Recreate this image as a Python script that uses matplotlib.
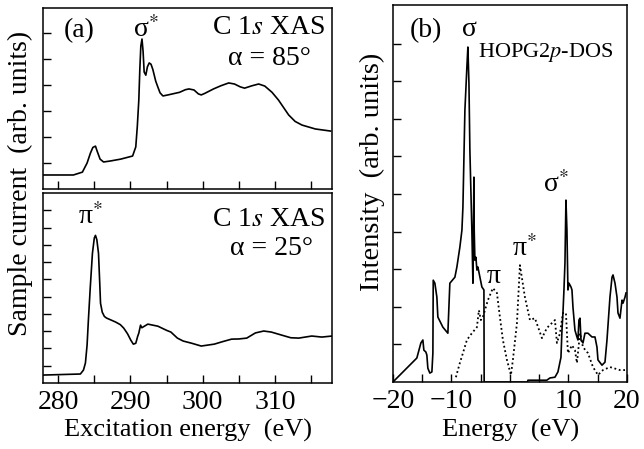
import numpy as np
import matplotlib
matplotlib.use("Agg")
import matplotlib.pyplot as plt
from matplotlib.ticker import MultipleLocator

plt.rcParams["font.family"] = ["Liberation Serif", "DejaVu Serif"]
plt.rcParams["mathtext.fontset"] = "stix"

# (a) upper: C 1s XAS, alpha = 85 deg
e85 = [277.9, 282.1, 283.35, 284.0, 284.46, 284.8, 285.16, 285.4, 285.8, 286.28,
       287.25, 288.65, 290.3, 290.74, 290.95, 291.16, 291.3, 291.44, 291.6, 291.75,
       291.9, 292.13, 292.35, 292.6, 292.85, 293.1, 293.5, 293.8, 294.1, 294.5,
       295.2, 296.8, 297.6, 298.1, 298.8, 299.4, 299.8, 300.3, 301.5, 302.5,
       303.6, 304.4, 305.2, 305.8, 306.8, 307.75, 308.6, 309.6, 310.5, 311.9,
       312.8, 313.75, 315.6, 317.7]
i85 = [0.54, 0.54, 0.65, 1.0, 1.38, 1.6, 1.65, 1.45, 1.15, 1.04,
       1.08, 1.15, 1.27, 1.62, 2.4, 3.42, 4.6, 5.5, 5.77, 5.3,
       4.5, 4.38, 4.7, 4.85, 4.8, 4.6, 4.15, 3.92, 3.7, 3.58,
       3.62, 3.72, 3.82, 3.85, 3.81, 3.66, 3.62, 3.68, 3.85, 3.97,
       4.08, 4.04, 3.93, 3.88, 3.97, 4.04, 3.96, 3.72, 3.42, 2.85,
       2.6, 2.46, 2.31, 2.23]

# (a) lower: C 1s XAS, alpha = 25 deg
e25 = [277.9, 283.07, 283.5, 283.77, 284.0, 284.18, 284.45, 284.74, 285.0, 285.16,
       285.35, 285.58, 285.75, 285.86, 286.1, 286.4, 286.7, 287.95, 288.6, 289.07,
       289.6, 290.04, 290.4, 290.74, 291.0, 291.16, 291.4, 291.58, 292.41, 293.8,
       295.0, 295.6, 296.5, 297.3, 298.5, 299.8, 301.6, 302.8, 304.0, 305.0,
       306.1, 307.3, 308.45, 309.5, 310.96, 312.2, 313.3, 315.1, 316.5, 317.9]
i25 = [0.46, 0.52, 0.75, 1.16, 2.2, 3.64, 5.6, 7.51, 8.4, 8.55,
       8.3, 7.51, 5.8, 4.62, 4.1, 3.85, 3.76, 3.53, 3.38, 3.18,
       2.85, 2.49, 2.25, 2.3, 2.7, 2.89, 3.35, 3.2, 3.41, 3.29,
       3.05, 2.95, 2.6, 2.43, 2.3, 2.14, 2.25, 2.4, 2.54, 2.55,
       2.60, 2.9, 3.01, 2.95, 2.77, 2.62, 2.60, 2.72, 2.66, 2.72]

# (b) HOPG 2p DOS, sigma (solid)
e_sig = [-20, -17.95, -15.9, -15.21, -14.87, -14.7, -14.36, -14.19, -14.02, -13.68,
         -13.33, -13.16, -13.1, -12.82, -12.48, -12.31, -11.45, -10.6, -10.26, -9.4,
         -9.06, -8.55, -8.2, -8.03, -7.69, -7.35, -7.18, -7.0, -6.84, -6.5,
         -6.32, -6.15, -6.1, -5.98, -5.81, -5.64, -5.47, -4.79, -4.44, -4.4,
         3.0, 3.08, 6.3, 6.84, 7.69, 8.2, 8.72, 8.89, 9.06, 9.23,
         9.4, 9.57, 9.74, 9.91, 10.09, 10.43, 10.6, 10.77, 11.11, 11.45,
         11.62, 11.79, 11.97, 12.14, 12.48, 12.82, 13.33, 14.02, 14.53, 14.87,
         15.04, 15.73, 16.24, 16.58, 17.09, 17.44, 17.61, 17.95, 18.29, 18.46,
         18.8, 19.15, 19.32, 19.66, 19.83]
d_sig = [0.0, 0.32, 0.64, 1.04, 1.12, 0.85, 0.80, 0.72, 0.37, 0.24,
         0.27, 0.77, 2.71, 2.63, 2.26, 1.73, 1.46, 1.30, 2.63, 2.79,
         3.06, 3.59, 4.04, 4.65, 7.23, 8.38, 8.91, 7.95, 6.17, 4.04,
         2.63, 5.45, 4.04, 3.24, 3.32, 2.98, 3.06, 2.53, 2.45, 0.0,
         0.0, 0.05, 0.05, 0.11, 0.13, 0.27, 0.66, 1.38, 1.84, 2.45,
         3.16, 4.84, 4.04, 2.45, 2.63, 2.53, 2.45, 1.99, 1.38, 1.20,
         1.12, 1.65, 1.70, 1.12, 1.04, 1.30, 1.30, 1.20, 1.20, 0.93,
         0.59, 0.45, 0.53, 1.12, 2.26, 2.79, 2.85, 2.63, 2.26, 1.84,
         1.70, 2.18, 2.10, 2.26, 2.37]

# (b) pi DOS (dotted)
e_pi = [-9.23, -8.55, -8.03, -7.35, -6.5, -5.64, -5.3, -4.96, -4.62, -3.76,
        -2.91, -2.22, -1.71, -1.2, -0.51, 0.17, 0.51, 1.2, 1.71, 2.56,
        3.42, 4.27, 5.47, 6.32, 7.69, 8.03, 8.55, 9.06, 9.57, 9.91,
        10.6, 11.11, 11.45, 11.97, 12.48, 13.33, 14.19, 15.04, 15.9, 17.09,
        18.8, 19.66]
d_pi = [0.13, 0.51, 0.77, 1.12, 1.30, 1.46, 1.91, 1.65, 1.73, 2.18,
        2.50, 2.37, 1.73, 1.12, 0.59, 0.19, 0.59, 1.57, 3.11, 2.26,
        1.65, 1.70, 1.17, 1.44, 1.65, 1.04, 1.30, 1.84, 1.84, 0.77,
        0.98, 0.85, 0.51, 1.30, 0.93, 0.77, 0.40, 0.19, 0.32, 0.40,
        0.32, 0.32]

fig = plt.figure(figsize=(6.44, 4.49), dpi=100)
ax1 = fig.add_axes([0.0668, 0.579, 0.4487, 0.403])
ax2 = fig.add_axes([0.0668, 0.147, 0.4487, 0.423])
ax3 = fig.add_axes([0.610, 0.149, 0.3636, 0.840])

lw = 1.2
ax1.plot(e85, i85, color="black", lw=lw)
ax2.plot(e25, i25, color="black", lw=lw)
ax3.plot(e_sig, d_sig, color="black", lw=lw)
ax3.plot(e_pi, d_pi, color="black", lw=1.3, ls=(0, (1, 1.5)))

for ax in (ax1, ax2, ax3):
    for s in ax.spines.values():
        s.set_linewidth(1.1)
    ax.tick_params(axis="both", which="both", direction="in", length=6, width=1.0,
                   top=False, right=False, labelsize=20, pad=5)

ax1.set_xlim(277.9, 317.9)
ax2.set_xlim(277.9, 317.9)
for ax in (ax1, ax2):
    ax.xaxis.set_major_locator(MultipleLocator(10))
    ax.xaxis.set_minor_locator(MultipleLocator(5))
ax1.set_xticklabels([])
ax1.set_ylim(0, 6.96)
ax1.set_yticks(np.arange(1, 7))
ax1.set_yticklabels([])
ax2.set_ylim(0, 11.0)
ax2.set_yticks(np.arange(1, 11))
ax2.set_yticklabels([])

ax3.set_xlim(-20, 20)
ax3.set_ylim(0, 10.03)
ax3.set_xticks([-20, -10, 0, 10, 20])
ax3.xaxis.set_minor_locator(MultipleLocator(5))
ax3.set_yticks(np.arange(1, 10))
ax3.set_yticklabels([])

fs = 20
ax1.text(0.125, 0.873, "(a)", transform=ax1.transAxes, ha="center", va="center", fontsize=fs)
ax1.text(0.356, 0.884, "σ$^{*}$", transform=ax1.transAxes, ha="center", va="center", fontsize=fs)
ax1.text(0.976, 0.895, r"C 1$\mathit{s}$ XAS", transform=ax1.transAxes, ha="right", va="center", fontsize=fs)
ax1.text(0.785, 0.724, "α = 85°", transform=ax1.transAxes, ha="center", va="center", fontsize=fs)

ax2.text(0.163, 0.874, "π$^{*}$", transform=ax2.transAxes, ha="center", va="center", fontsize=fs)
ax2.text(0.976, 0.863, r"C 1$\mathit{s}$ XAS", transform=ax2.transAxes, ha="right", va="center", fontsize=fs)
ax2.text(0.789, 0.71, "α = 25°", transform=ax2.transAxes, ha="center", va="center", fontsize=fs)

ax3.text(0.141, 0.931, "(b)", transform=ax3.transAxes, ha="center", va="center", fontsize=fs)
ax3.text(0.329, 0.934, "σ", transform=ax3.transAxes, ha="center", va="center", fontsize=fs)
ax3.text(0.363, 0.873, r"HOPG2$\mathit{p}$-DOS", transform=ax3.transAxes, ha="left", va="center", fontsize=16)
ax3.text(0.697, 0.523, "σ$^{*}$", transform=ax3.transAxes, ha="center", va="center", fontsize=fs)
ax3.text(0.432, 0.281, "π", transform=ax3.transAxes, ha="center", va="center", fontsize=fs)
ax3.text(0.56, 0.353, "π$^{*}$", transform=ax3.transAxes, ha="center", va="center", fontsize=fs)

fig.text(0.031, 0.592, "Sample current  (arb. units)", rotation=90, ha="center", va="center", fontsize=20)
fig.text(0.292, 0.042, "Excitation energy  (eV)", ha="center", va="center", fontsize=19)
fig.text(0.579, 0.617, "Intensity  (arb. units)", rotation=90, ha="center", va="center", fontsize=20.5)
fig.text(0.793, 0.042, "Energy  (eV)", ha="center", va="center", fontsize=19)

fig.savefig("out.png", dpi=100)
